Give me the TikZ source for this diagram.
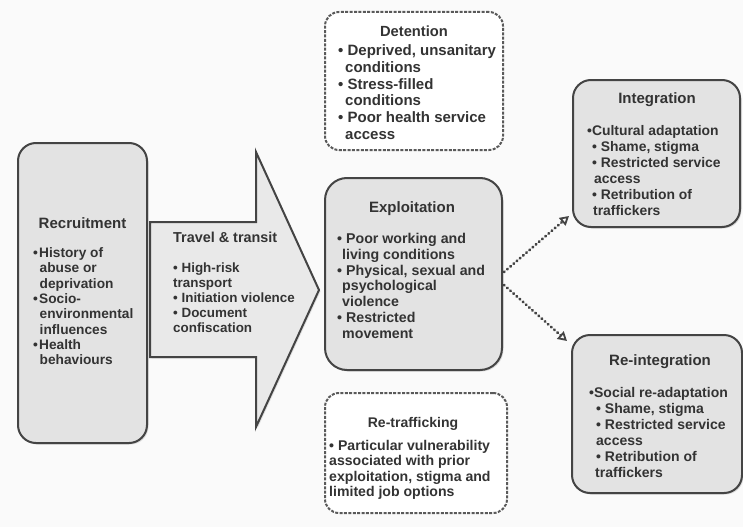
\documentclass[tikz,border=0pt]{standalone}
\usepackage{fontspec}
\setmainfont{Liberation Sans}
\newfontfamily\hf{Liberation Sans Bold}
\usetikzlibrary{arrows.meta,shadows}
\definecolor{boxfill}{HTML}{E3E3E3}
\definecolor{arrowfill}{HTML}{E9E9E9}
\definecolor{edge}{HTML}{444444}
\definecolor{dashedge}{HTML}{5A5A5A}
\definecolor{txt}{HTML}{333333}
\definecolor{bg}{HTML}{FAFAFA}
\newcommand{\fs}[2]{\fontsize{#1}{#2}\selectfont}
\begin{document}
\begin{tikzpicture}[x=1pt,y=-1pt,
  solidbox/.style={draw=edge, line width=2pt, fill=boxfill, rounded corners=18pt,
    inner sep=0pt, drop shadow={shadow xshift=1.5pt, shadow yshift=-1.5pt, opacity=0.25}},
  dashbox/.style={draw=dashedge, line width=2pt, dash pattern=on 3pt off 1.4pt,
    fill=white, rounded corners=14pt, inner sep=0pt},
  head/.style={font=\hf\fs{15}{18}, text=txt, inner sep=0pt, anchor=base},
  body/.style={text=txt, align=left, inner sep=0pt, anchor=north west},
  link/.style={draw=edge, line width=2.8pt, dash pattern=on 0.6pt off 3.6pt, line cap=round,
    -{Triangle[open, length=9pt, width=10pt, line width=1.8pt]}}
  ]
\useasboundingbox[fill=bg] (0,0) rectangle (743,527);

% Recruitment
\node[solidbox, minimum width=129pt, minimum height=300pt] (rec) at (82.5,293) {};
\node[head] (rech) at (82.5,228) {Recruitment};
\node[body, font=\hf\fs{13.7}{15.3}] (recb) at (33,247.5) {%
\textbullet\hspace{1.2pt}History of\\
\hspace*{6.5pt}abuse or\\
\hspace*{6.5pt}deprivation\\
\textbullet\hspace{1.2pt}Socio-\\
\hspace*{6.5pt}environmental\\
\hspace*{6.5pt}influences\\
\textbullet\hspace{1.2pt}Health\\
\hspace*{6.5pt}behaviours};

% Travel & transit arrow
\coordinate (trtail) at (150,289.5);
\draw[draw=edge, line width=2pt, fill=arrowfill, line join=miter,
  drop shadow={shadow xshift=1.5pt, shadow yshift=-1.5pt, opacity=0.2}]
  (150,222) -- (256,222) -- (256,152) -- (319,290) -- (256,427) -- (256,357) -- (150,357) -- cycle;
\node[head, anchor=base west, font=\hf\fs{14.4}{17}] (trh) at (173,242) {Travel \& transit};
\node[body, font=\hf\fs{13.4}{15}] (trb) at (173,263) {%
\textbullet{} High-risk\\
transport\\
\textbullet{} Initiation violence\\
\textbullet{} Document\\
confiscation};

% Detention
\node[dashbox, minimum width=178pt, minimum height=138pt] (det) at (414,81) {};
\node[head, font=\hf\fs{14.7}{17}] (deth) at (414,37) {Detention};
\node[body, font=\hf\fs{15}{16.8}] (detb) at (338,44.5) {%
\textbullet{} Deprived, unsanitary\\
\hspace*{7pt}conditions\\
\textbullet{} Stress-filled\\
\hspace*{7pt}conditions\\
\textbullet{} Poor health service\\
\hspace*{7pt}access};

% Exploitation
\node[solidbox, minimum width=177pt, minimum height=192pt, rounded corners=22pt] (exp) at (413.5,274) {};
\node[head] (exph) at (412,212) {Exploitation};
\node[body, font=\hf\fs{14.2}{15.8}] (expb) at (337,233) {%
\textbullet{} Poor working and\\
\hspace*{5pt}living conditions\\
\textbullet{} Physical, sexual and\\
\hspace*{5pt}psychological\\
\hspace*{5pt}violence\\
\textbullet{} Restricted\\
\hspace*{5pt}movement};

% Re-trafficking
\node[dashbox, minimum width=182pt, minimum height=120pt] (ret) at (416,453) {};
\node[head, font=\hf\fs{14}{17}] (reth) at (413,427) {Re-trafficking};
\node[body, font=\hf\fs{14.1}{15.5}] (retb) at (329,440) {%
\textbullet{} Particular vulnerability\\
associated with prior\\
exploitation, stigma and\\
limited job options};

% Integration
\node[solidbox, minimum width=167pt, minimum height=147pt] (int) at (656.5,153.5) {};
\node[head] (inth) at (657,103) {Integration};
\node[body, font=\hf\fs{13.9}{16}] (intb) at (587,125) {%
\textbullet Cultural adaptation\\
\hspace*{5pt}\textbullet{} Shame, stigma\\
\hspace*{5pt}\textbullet{} Restricted service\\
\hspace*{7pt}access\\
\hspace*{5pt}\textbullet{} Retribution of\\
\hspace*{6pt}traffickers};

% Re-integration
\node[solidbox, minimum width=170pt, minimum height=158pt] (rei) at (657,414) {};
\node[head] (reih) at (660,365) {Re-integration};
\node[body, font=\hf\fs{14}{16}] (reib) at (589,387) {%
\textbullet Social re-adaptation\\
\hspace*{7pt}\textbullet{} Shame, stigma\\
\hspace*{7pt}\textbullet{} Restricted service\\
\hspace*{7pt}access\\
\hspace*{7pt}\textbullet{} Retribution of\\
\hspace*{6pt}traffickers};

% connectors
\draw[link] ([xshift=1pt,yshift=2pt]exp.east) -- ([xshift=-3pt,yshift=12pt]int.south west);
\draw[link] ([xshift=1pt,yshift=-11pt]exp.east) -- ([xshift=-4pt,yshift=-7pt]rei.north west);
\end{tikzpicture}
\end{document}
